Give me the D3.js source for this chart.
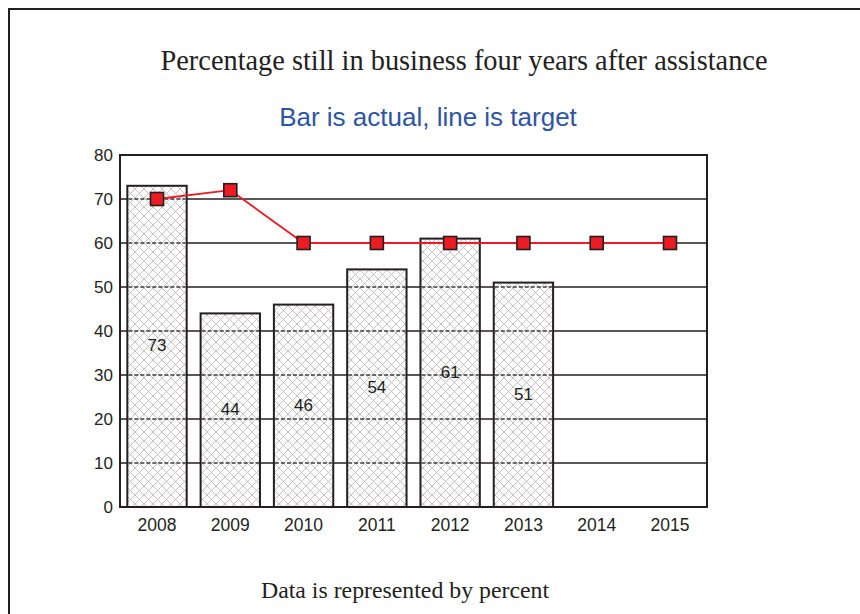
<!DOCTYPE html>
<html>
<head>
<meta charset="utf-8">
<script src="https://cdn.jsdelivr.net/npm/d3@7"></script>
<style>
  html, body { margin: 0; padding: 0; background: #fff; }
  svg { display: block; }
</style>
</head>
<body>
<svg id="chart" width="860" height="614"></svg>
<script>
// Survival rate four years after assistance, by year
const years = ["2008", "2009", "2010", "2011", "2012", "2013", "2014", "2015"];
const actual = [73, 44, 46, 54, 61, 51, null, null];
const target = [70, 72, 60, 60, 60, 60, 60, 60];
const yTicks = [0, 10, 20, 30, 40, 50, 60, 70, 80];

const svg = d3.select("#chart");
const plot = { left: 120, right: 707, top: 155, bottom: 507 };

const x = d3.scaleBand().domain(years).range([plot.left, plot.right]).paddingInner(0.19).paddingOuter(0.1);
const y = d3.scaleLinear().domain([0, 80]).range([plot.bottom, plot.top]);

// Outer frame (top and left edges)
svg.append("path")
  .attr("d", "M9,614 L9,9 L860,9")
  .attr("fill", "none").attr("stroke", "#231f20").attr("stroke-width", 2);

// Cross-hatch fill for the bars
const P = 9;
const defs = svg.append("defs");
const pat = defs.append("pattern")
  .attr("id", "hatch").attr("patternUnits", "userSpaceOnUse")
  .attr("width", P).attr("height", P);
pat.append("rect").attr("width", P).attr("height", P).attr("fill", "#fcfcfc");
pat.append("path")
  .attr("d", `M0,0 L${P},${P} M${P},0 L0,${P} M-1,${P - 1} L1,${P + 1} M${P - 1},-1 L${P + 1},1 M-1,1 L1,-1 M${P - 1},${P + 1} L${P + 1},${P - 1}`)
  .attr("stroke", "#bdbdbd").attr("stroke-width", 0.9);

// Titles
svg.append("text").attr("x", 464).attr("y", 70).attr("text-anchor", "middle")
  .attr("font-family", "'Liberation Serif', 'Times New Roman', serif").attr("font-size", 28.4)
  .attr("textLength", 607).attr("lengthAdjust", "spacingAndGlyphs")
  .attr("fill", "#231f20").text("Percentage still in business four years after assistance");
svg.append("text").attr("x", 428).attr("y", 126).attr("text-anchor", "middle")
  .attr("font-family", "'Liberation Sans', Arial, sans-serif").attr("font-size", 26)
  .attr("fill", "#2e55a5").text("Bar is actual, line is target");
svg.append("text").attr("x", 405).attr("y", 598).attr("text-anchor", "middle")
  .attr("font-family", "'Liberation Serif', 'Times New Roman', serif").attr("font-size", 23.8)
  .attr("fill", "#231f20").text("Data is represented by percent");

// Horizontal gridlines
svg.append("g").selectAll("line").data(yTicks.slice(1, -1)).join("line")
  .attr("x1", plot.left).attr("x2", plot.right)
  .attr("y1", d => y(d)).attr("y2", d => y(d))
  .attr("stroke", "#231f20").attr("stroke-width", 1.6);

// Bars
const barData = years.map((yr, i) => ({ yr, v: actual[i] })).filter(d => d.v != null);
svg.append("g").selectAll("rect").data(barData).join("rect")
  .attr("x", d => x(d.yr)).attr("width", x.bandwidth())
  .attr("y", d => y(d.v)).attr("height", d => y(0) - y(d.v))
  .attr("fill", "url(#hatch)").attr("stroke", "#231f20").attr("stroke-width", 2);

// Gridlines show through the bars as dashes
const inner = svg.append("g");
barData.forEach(d => {
  yTicks.slice(1, -1).filter(t => t < d.v).forEach(t => {
    inner.append("line")
      .attr("x1", x(d.yr) + 1).attr("x2", x(d.yr) + x.bandwidth() - 1)
      .attr("y1", y(t)).attr("y2", y(t))
      .attr("stroke", "#3a3a3a").attr("stroke-width", 1.4)
      .attr("stroke-dasharray", "4,2");
  });
});

// Value labels centred in each bar
svg.append("g").selectAll("text").data(barData).join("text")
  .attr("x", d => x(d.yr) + x.bandwidth() / 2)
  .attr("y", d => (y(d.v) + y(0)) / 2 + 5)
  .attr("text-anchor", "middle")
  .attr("font-family", "'Liberation Sans', Arial, sans-serif").attr("font-size", 17)
  .attr("fill", "#231f20").text(d => d.v);

// Plot border
svg.append("rect")
  .attr("x", plot.left).attr("y", plot.top)
  .attr("width", plot.right - plot.left).attr("height", plot.bottom - plot.top)
  .attr("fill", "none").attr("stroke", "#231f20").attr("stroke-width", 2);

// Y axis labels
svg.append("g").attr("transform", `translate(${plot.left},0)`)
  .call(d3.axisLeft(y).tickValues(yTicks).tickSize(0).tickPadding(7))
  .call(g => g.select(".domain").remove())
  .call(g => g.selectAll("text")
    .attr("font-family", "'Liberation Sans', Arial, sans-serif").attr("font-size", 17)
    .attr("fill", "#231f20"));

// X axis labels
svg.append("g").attr("transform", `translate(0,${plot.bottom})`)
  .call(d3.axisBottom(x).tickSize(0).tickPadding(12))
  .call(g => g.select(".domain").remove())
  .call(g => g.selectAll("text")
    .attr("font-family", "'Liberation Sans', Arial, sans-serif").attr("font-size", 17.5)
    .attr("fill", "#231f20"));

// Target line with square markers
const cx = yr => x(yr) + x.bandwidth() / 2;
const line = d3.line().x((d, i) => cx(years[i])).y(d => y(d));
svg.append("path").datum(target)
  .attr("d", line).attr("fill", "none")
  .attr("stroke", "#ed1c24").attr("stroke-width", 1.8);
const m = 13;
svg.append("g").selectAll("rect").data(target).join("rect")
  .attr("x", (d, i) => cx(years[i]) - m / 2).attr("y", d => y(d) - m / 2)
  .attr("width", m).attr("height", m)
  .attr("fill", "#ed1c24").attr("stroke", "#231f20").attr("stroke-width", 1.6);
</script>
</body>
</html>
